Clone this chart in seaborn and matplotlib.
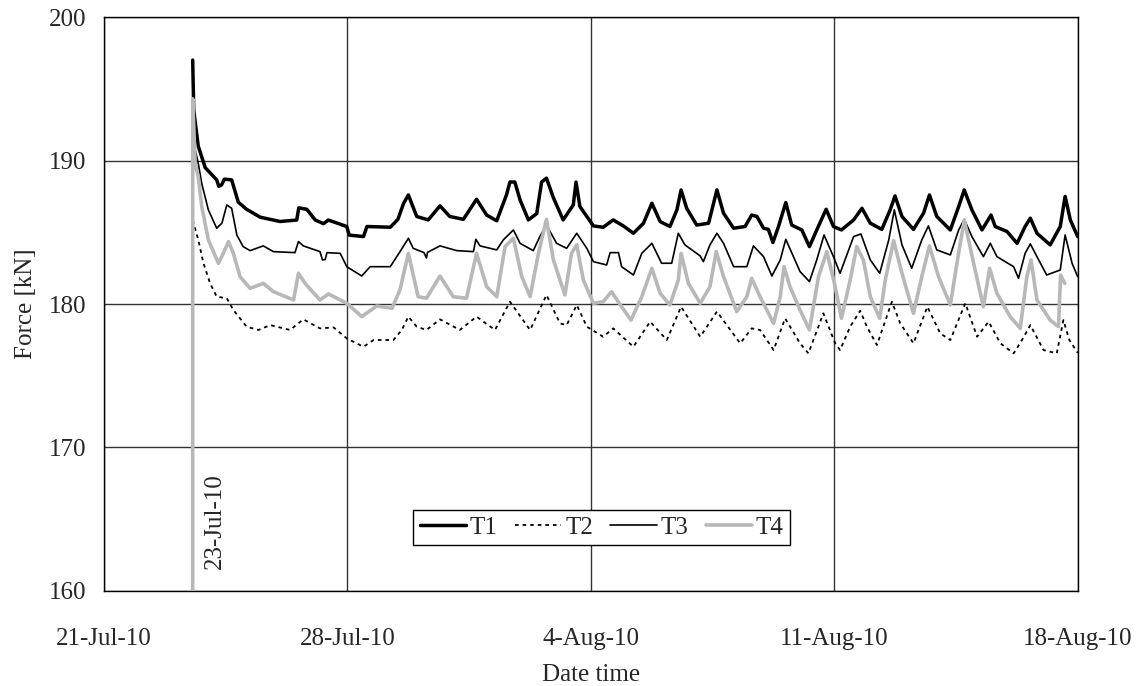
import numpy as np
import pandas as pd
import matplotlib
matplotlib.use("Agg")
import matplotlib.pyplot as plt
import matplotlib.dates as mdates
from matplotlib.ticker import FuncFormatter
import seaborn as sns

# ---- data (days after 21-Jul-2010 00:00, force in kN) ----
start_date = "2010-07-21"
t1_day = [2.55, 2.58, 2.71, 2.91, 3.24, 3.30, 3.38, 3.46, 3.67, 3.86, 4.10, 4.49, 5.06, 5.54, 5.60, 5.83, 6.07, 6.31, 6.45, 6.98,
          7.05, 7.46, 7.56, 8.23, 8.45, 8.61, 8.75, 8.99, 9.32, 9.66, 9.94, 10.33, 10.71, 11.0, 11.29, 11.57, 11.67, 11.81, 11.96,
          12.2, 12.44, 12.58, 12.72, 12.92, 13.2, 13.49, 13.57, 13.68, 13.88, 14.07, 14.35, 14.64, 14.93, 15.22, 15.51, 15.75,
          15.99, 16.27, 16.47, 16.59, 16.75, 17.04, 17.38, 17.62, 17.81, 18.1, 18.43, 18.62, 18.77, 18.96, 19.1, 19.23, 19.39,
          19.6, 19.77, 20.06, 20.28, 20.49, 20.76, 20.97, 21.2, 21.55, 21.79, 22.03, 22.36, 22.6, 22.74, 22.94, 23.27, 23.56,
          23.73, 23.94, 24.33, 24.57, 24.73, 24.95, 25.24, 25.5, 25.62, 25.96, 26.25, 26.48, 26.63, 26.82, 27.2, 27.49, 27.63,
          27.78, 27.99]
t1_kn = [197.0, 193.5, 191.0, 189.5, 188.65, 188.2, 188.3, 188.7, 188.65, 187.1, 186.6, 186.05, 185.75, 185.85, 186.7, 186.6,
         185.86, 185.6, 185.85, 185.4, 184.8, 184.7, 185.4, 185.35, 185.9, 187.0, 187.6, 186.1, 185.86, 186.84, 186.1, 185.9,
         187.3, 186.2, 185.8, 187.6, 188.5, 188.5, 187.26, 185.86, 186.3, 188.5, 188.77, 187.4, 185.86, 186.9, 188.5, 186.8,
         186.1, 185.44, 185.35, 185.86, 185.44, 184.93, 185.63, 187.02, 185.74, 185.4, 186.56, 187.95, 186.67, 185.5, 185.63,
         187.95, 186.33, 185.28, 185.4, 186.2, 186.1, 185.28, 185.2, 184.28, 185.4, 187.07, 185.5, 185.16, 184.0, 185.16,
         186.6, 185.4, 185.16, 185.86, 186.67, 185.63, 185.2, 186.56, 187.53, 186.1, 185.2, 186.33, 187.6, 186.1, 185.16,
         186.79, 187.95, 186.56, 185.16, 186.2, 185.4, 185.05, 184.23, 185.4, 185.98, 184.93, 184.12, 185.4, 187.5, 185.86,
         184.7]

t2_day = [2.55, 2.71, 2.86, 3.05, 3.24, 3.53, 3.72, 4.1, 4.44, 4.78, 5.35, 5.73, 6.21, 6.6, 6.98, 7.46, 7.75, 8.32, 8.56, 8.75,
          8.99, 9.27, 9.66, 10.23, 10.71, 11.24, 11.67, 12.25, 12.72, 13.11, 13.3, 13.59, 13.88, 14.35, 14.64, 15.0, 15.22,
          15.7, 16.18, 16.59, 17.14, 17.62, 18.29, 18.62, 18.86, 19.25, 19.58, 20.01, 20.25, 20.68, 21.02, 21.16, 21.45, 21.74,
          21.93, 22.22, 22.65, 22.89, 23.27, 23.67, 24.04, 24.33, 24.76, 25.1, 25.43, 25.77, 26.15, 26.39, 26.63, 27.01, 27.39,
          27.58, 27.75, 27.99]
t2_kn = [185.86, 184.47, 182.84, 181.44, 180.51, 180.4, 179.58, 178.42, 178.19, 178.53, 178.19, 178.93, 178.3, 178.37, 177.6,
         177.02, 177.49, 177.49, 178.19, 179.12, 178.42, 178.19, 178.93, 178.19, 179.12, 178.19, 180.16, 178.19, 180.63,
         178.65, 178.53, 179.93, 178.42, 177.72, 178.3, 177.5, 177.02, 178.77, 177.49, 179.81, 177.72, 179.47, 177.26, 178.3,
         178.19, 176.79, 179.0, 177.26, 176.56, 179.35, 177.26, 176.79, 178.42, 179.53, 178.42, 177.14, 180.16, 178.65, 177.26,
         179.81, 177.95, 177.49, 180.05, 177.72, 178.77, 177.26, 176.56, 177.49, 178.53, 176.79, 176.56, 178.88, 177.5, 176.6]

t3_day = [2.58, 2.71, 2.81, 3.0, 3.24, 3.39, 3.53, 3.67, 3.82, 4.0, 4.2, 4.58, 4.87, 5.49, 5.59, 5.73, 6.21, 6.28, 6.36, 6.41,
          6.79, 6.98, 7.41, 7.65, 8.23, 8.51, 8.75, 8.89, 9.2, 9.27, 9.3, 9.66, 10.14, 10.62, 10.69, 10.81, 11.29, 11.48, 11.77,
          11.96, 12.34, 12.53, 12.72, 13.01, 13.3, 13.59, 13.88, 14.07, 14.45, 14.55, 14.79, 14.88, 15.22, 15.46, 15.75, 16.03,
          16.32, 16.51, 16.7, 17.14, 17.23, 17.42, 17.62, 17.81, 18.1, 18.48, 18.67, 18.96, 19.2, 19.44, 19.6, 19.82, 20.01,
          20.28, 20.49, 20.7, 20.97, 21.16, 21.55, 21.76, 22.03, 22.3, 22.56, 22.72, 22.94, 23.22, 23.51, 23.7, 23.94, 24.33,
          24.57, 24.73, 24.95, 25.28, 25.48, 25.67, 26.15, 26.29, 26.48, 26.63, 26.82, 27.1, 27.49, 27.63, 27.83, 27.99]
t3_kn = [191.2, 189.8, 188.4, 186.56, 185.28, 185.63, 186.9, 186.67, 184.8, 184.0, 183.72, 184.05, 183.65, 183.58, 184.35,
         184.05, 183.65, 183.07, 183.1, 183.58, 183.53, 182.6, 181.95, 182.6, 182.6, 183.65, 184.58, 183.88, 183.58, 183.2,
         183.6, 184.05, 183.72, 183.65, 184.51, 184.05, 183.77, 184.47, 185.16, 184.23, 183.72, 184.7, 185.51, 184.23, 183.88,
         184.93, 183.88, 182.95, 182.72, 183.58, 183.58, 182.6, 182.02, 183.53, 184.23, 182.84, 182.84, 184.93, 184.12,
         183.35, 182.95, 184.12, 184.93, 184.23, 182.6, 182.6, 184.05, 183.3, 181.95, 183.07, 184.51, 183.3, 182.26, 181.56,
         183.07, 184.81, 183.3, 182.14, 184.7, 184.88, 183.07, 182.14, 184.47, 186.56, 184.12, 182.49, 184.47, 185.44, 183.77,
         183.42, 185.16, 185.9, 184.7, 183.3, 184.23, 183.3, 182.6, 181.79, 183.53, 184.19, 183.3, 182.02, 182.37, 184.81,
         182.84, 181.91]

t4_day = [2.55, 2.55, 2.62, 2.71, 2.81, 3.0, 3.29, 3.43, 3.58, 3.72, 3.91, 4.2, 4.58, 4.87, 5.45, 5.59, 5.78, 6.21, 6.45, 6.98,
          7.41, 7.84, 8.28, 8.51, 8.75, 9.03, 9.27, 9.66, 10.04, 10.42, 10.71, 11.0, 11.29, 11.53, 11.77, 12.01, 12.25, 12.49,
          12.72, 12.92, 13.25, 13.44, 13.59, 13.78, 14.07, 14.35, 14.59, 14.88, 15.15, 15.46, 15.75, 15.99, 16.27, 16.51,
          16.59, 16.8, 17.14, 17.42, 17.6, 17.81, 18.19, 18.48, 18.62, 18.86, 19.25, 19.44, 19.55, 19.72, 20.01, 20.28, 20.54,
          20.78, 21.02, 21.2, 21.45, 21.64, 21.83, 22.03, 22.3, 22.46, 22.7, 22.94, 23.27, 23.51, 23.73, 23.99, 24.33, 24.52,
          24.73, 25.0, 25.28, 25.46, 25.67, 26.05, 26.34, 26.53, 26.65, 26.82, 27.2, 27.44, 27.5, 27.62]
t4_kn = [150.0, 194.3, 189.8, 188.86, 186.8, 184.47, 182.84, 183.53, 184.35, 183.53, 181.91, 181.09, 181.44, 180.86, 180.28,
         182.14, 181.44, 180.28, 180.7, 180.05, 179.12, 179.86, 179.7, 181.0, 183.53, 180.51, 180.4, 181.95, 180.51, 180.4,
         183.53, 181.21, 180.51, 184.0, 184.58, 181.91, 180.51, 183.53, 185.9, 183.07, 180.63, 183.53, 184.12, 181.67, 180.05,
         180.16, 180.86, 179.81, 178.88, 180.51, 182.49, 180.74, 179.93, 181.67, 183.53, 181.44, 180.05, 181.21, 183.65,
         181.91, 179.47, 180.51, 181.79, 180.51, 178.65, 180.51, 182.6, 181.21, 179.58, 178.19, 181.91, 183.65, 181.21, 179.0,
         181.67, 184.0, 183.07, 180.51, 179.0, 181.67, 184.42, 182.14, 179.35, 181.91, 184.05, 181.91, 179.93, 182.84, 185.86,
         182.84, 179.81, 182.49, 180.74, 179.12, 178.3, 181.91, 183.07, 180.28, 178.88, 178.42, 182.02, 181.44]

series_names = ["T1", "T2", "T3", "T4"]
y_ticks = [160, 170, 180, 190, 200]
x_tick_dates = ["2010-07-21", "2010-07-28", "2010-08-04", "2010-08-11", "2010-08-18"]
annotation_text = "23-Jul-10"
annotation_day = 3.18
annotation_kn = 164.9

# ---- build dataframe ----
base = pd.Timestamp(start_date)
frames = []
for name, d, v in zip(series_names, [t1_day, t2_day, t3_day, t4_day], [t1_kn, t2_kn, t3_kn, t4_kn]):
    frames.append(pd.DataFrame({"time": base + pd.to_timedelta(d, unit="D"), "force": v,
                                "series": name, "order": np.arange(len(d))}))
df = pd.concat(frames, ignore_index=True)

sns.set_style("white")
plt.rcParams["font.family"] = ["Liberation Serif", "DejaVu Serif"]
plt.rcParams["font.size"] = 18

fig = plt.figure(figsize=(11.44, 6.86), dpi=100)
ax = fig.add_axes([0.0909, 0.1385, 0.8514, 0.8367])

styles = {
    "T1": dict(color="black", lw=2.5, ls="-"),
    "T2": dict(color="black", lw=1.3, ls=(0, (2.0, 2.2))),
    "T3": dict(color="black", lw=1.2, ls="-"),
    "T4": dict(color="#b8b8b8", lw=2.6, ls="-"),
}
for name in series_names:
    sub = df[df["series"] == name]
    st = styles[name]
    sns.lineplot(data=sub, x="time", y="force", ax=ax, sort=False, estimator=None,
                 color=st["color"], linewidth=st["lw"], linestyle=st["ls"], label=name, zorder=3)

ax.set_xlim(pd.Timestamp(x_tick_dates[0]), pd.Timestamp(x_tick_dates[-1]))
ax.set_ylim(y_ticks[0], y_ticks[-1])
ax.set_yticks(y_ticks)
ax.set_xticks([pd.Timestamp(s) for s in x_tick_dates])

def fmt_date(x, pos):
    d = mdates.num2date(x)
    return f"{d.day}-{d.strftime('%b')}-{d.strftime('%y')}"
ax.xaxis.set_major_formatter(FuncFormatter(fmt_date))

ax.grid(True, color="#333333", linewidth=1.0)
for sp in ax.spines.values():
    sp.set_color("black")
    sp.set_linewidth(1.0)
ax.tick_params(axis="both", direction="out", length=5, width=1, color="black", labelsize=18)
ax.tick_params(axis="x", pad=22)
ax.tick_params(axis="y", pad=8)

ax.set_xlabel("Date time", fontsize=18, labelpad=10)
ax.set_ylabel("Force [kN]", fontsize=18, labelpad=8)

ax.text(base + pd.Timedelta(days=annotation_day), annotation_kn, annotation_text, rotation=90,
        ha="center", va="center", fontsize=18)

leg = ax.legend(loc="center", bbox_to_anchor=(0.511, 0.11), ncol=4, frameon=True, fancybox=False,
                edgecolor="black", framealpha=1, fontsize=18, handlelength=1.85, handletextpad=0.15,
                columnspacing=0.7, borderpad=0.25, borderaxespad=0)
leg.get_frame().set_linewidth(1.0)

fig.savefig("out.png", dpi=100)
